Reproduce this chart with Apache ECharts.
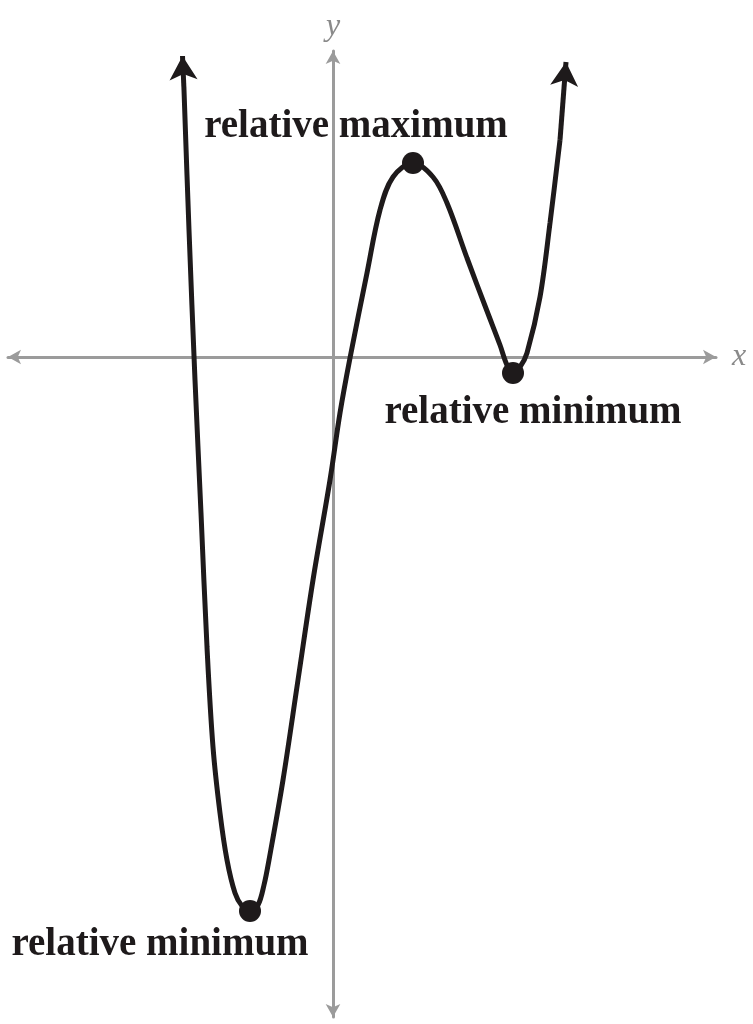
<!DOCTYPE html>
<html>
<head>
<meta charset="utf-8">
<script src="https://cdn.jsdelivr.net/npm/echarts@6/dist/echarts.min.js"></script>
<style>
html,body{margin:0;padding:0;background:#fff;}
#chart{width:753px;height:1024px;}
</style>
</head>
<body>
<div id="chart"></div>
<script>
// Curve points (x, y)
const curveX = [-2.98,-2.88,-2.76,-2.64,-2.52,-2.40,-2.26,-2.12,-1.96,-1.82,-1.66,-1.50,-1.38,-1.28,-1.00,-0.70,-0.40,-0.06,0.14,0.34,0.68,0.94,1.20,1.60,2.00,2.28,2.68,3.08,3.34,3.48,3.60,3.74,3.88,4.14,4.34,4.54];
const curveY = [5.34,2.54,-0.46,-3.12,-5.80,-7.80,-9.12,-10.06,-10.72,-10.98,-11.08,-10.96,-10.56,-10.06,-8.46,-6.46,-4.46,-2.46,-1.12,-0.02,1.68,2.94,3.60,3.88,3.60,3.08,1.98,0.92,0.24,-0.16,-0.32,-0.20,0.08,1.20,2.68,4.34];
// arrow ends of the curve: [from, to]
const leftArrow = [[-2.98,5.34],[-3.01,6.02]];
const rightArrow = [[4.54,4.34],[4.66,5.90]];
// extrema
const extremaX = [-1.66, 1.60, 3.60];
const extremaY = [-11.08, 3.88, -0.32];
const extremaLabels = ['relative minimum','relative maximum','relative minimum'];
const axisNames = ['x','y'];

const ink = '#1e1a1b';
const axisGray = '#9b9b9b';
const labelOffsets = [[-90,34],[-57,-36],[20,40]];

const chart = echarts.init(document.getElementById('chart'));
const axisCommon = {
  type:'value',
  axisTick:{show:false},
  axisLabel:{show:false},
  splitLine:{show:false},
  axisLine:{
    show:true,onZero:true,
    symbol:['arrow','arrow'],
    symbolSize:[11,13],
    lineStyle:{color:axisGray,width:3}
  },
  nameTextStyle:{color:'#8a8a8a',fontFamily:'Liberation Serif',fontStyle:'italic',fontSize:32}
};
chart.setOption({
  animation:false,
  backgroundColor:'#fff',
  grid:{left:8,right:37,top:51,bottom:7},
  xAxis:Object.assign({},axisCommon,{min:-6.5,max:7.66,name:axisNames[0],nameGap:16,nameLocation:'end'}),
  yAxis:Object.assign({},axisCommon,{min:-13.2,max:6.12,name:axisNames[1],nameGap:8,nameLocation:'end'}),
  series:[
    {
      type:'line',
      data:curveX.map((x,i)=>[x,curveY[i]]),
      smooth:0.35,
      showSymbol:false,
      lineStyle:{color:ink,width:5},
      markLine:{
        silent:true,
        symbol:['none','arrow'],
        symbolSize:[21,24],
        label:{show:false},
        lineStyle:{color:ink,width:5,type:'solid'},
        data:[
          [{coord:leftArrow[0]},{coord:leftArrow[1]}],
          [{coord:rightArrow[0]},{coord:rightArrow[1]}]
        ]
      },
      z:3
    },
    {
      type:'scatter',
      data:extremaX.map((x,i)=>({value:[x,extremaY[i]],label:{offset:labelOffsets[i]}})),
      symbol:'circle',
      symbolSize:22,
      itemStyle:{color:ink,opacity:1},
      label:{
        show:true,
        position:'inside',
        formatter:p=>extremaLabels[p.dataIndex],
        color:ink,
        opacity:1,
        fontFamily:'Liberation Serif',
        fontWeight:'bold',
        fontSize:39
      },
      z:4
    }
  ]
});
</script>
</body>
</html>
